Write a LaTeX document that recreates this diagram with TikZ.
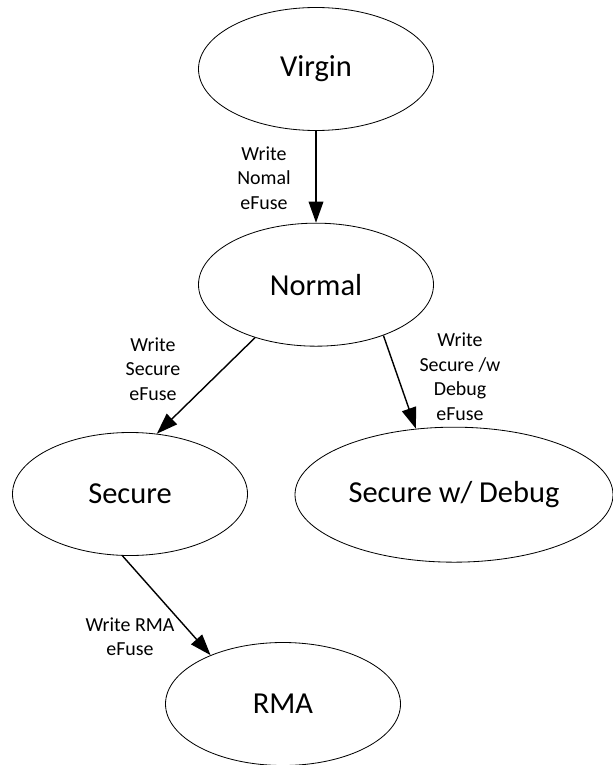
\documentclass[tikz,border=0pt]{standalone}
\usepackage{fontspec}
\setmainfont{Carlito}
\usetikzlibrary{arrows.meta,shapes.geometric}

\begin{document}
\begin{tikzpicture}[
  state/.style={ellipse,draw=black,line width=0.7pt,inner sep=0pt,
                font=\fontsize{26}{31}\selectfont,
                minimum width=7.05cm,minimum height=3.69cm},
  wide/.style={state,minimum width=9.54cm,minimum height=4.05cm},
  lbl/.style={align=center,inner sep=0pt,font=\fontsize{17}{21}\selectfont},
  arr/.style={-{Triangle[length=18pt,width=12.5pt]},line width=1.2pt}]

  \useasboundingbox (0,0) rectangle (18.39,-22.95);

  \node[state] (Nvirgin) at (9.48,-2.07)  {Virgin};
  \node[state] (Nnormal) at (9.48,-8.54)  {Normal};
  \node[state] (Nsecure) at (3.90,-14.82) {Secure};
  \node[wide]  (Ndebug)  at (13.62,-14.84) {Secure w/ Debug};
  \node[state] (Nrma)    at (8.49,-21.12) {RMA};

  \node[lbl] (Lnomal)  at (7.92,-5.34)  {Write\\Nomal\\eFuse};
  \node[lbl] (Lsecure) at (4.59,-11.07) {Write\\Secure\\eFuse};
  \node[lbl] (Ldebug)  at (13.80,-11.30) {Write\\Secure /w\\Debug\\eFuse};
  \node[lbl] (Lrma)    at (3.90,-19.10) {Write RMA\\eFuse};

  \draw[arr] (Nvirgin.south)--(Nnormal.north);
  \draw[arr] (Nnormal.221)--(Nsecure.66);
  \draw[arr] (Nnormal.323)--(Ndebug.120);
  \draw[arr] (Nsecure.263)--(Nrma.146);
\end{tikzpicture}
\end{document}
